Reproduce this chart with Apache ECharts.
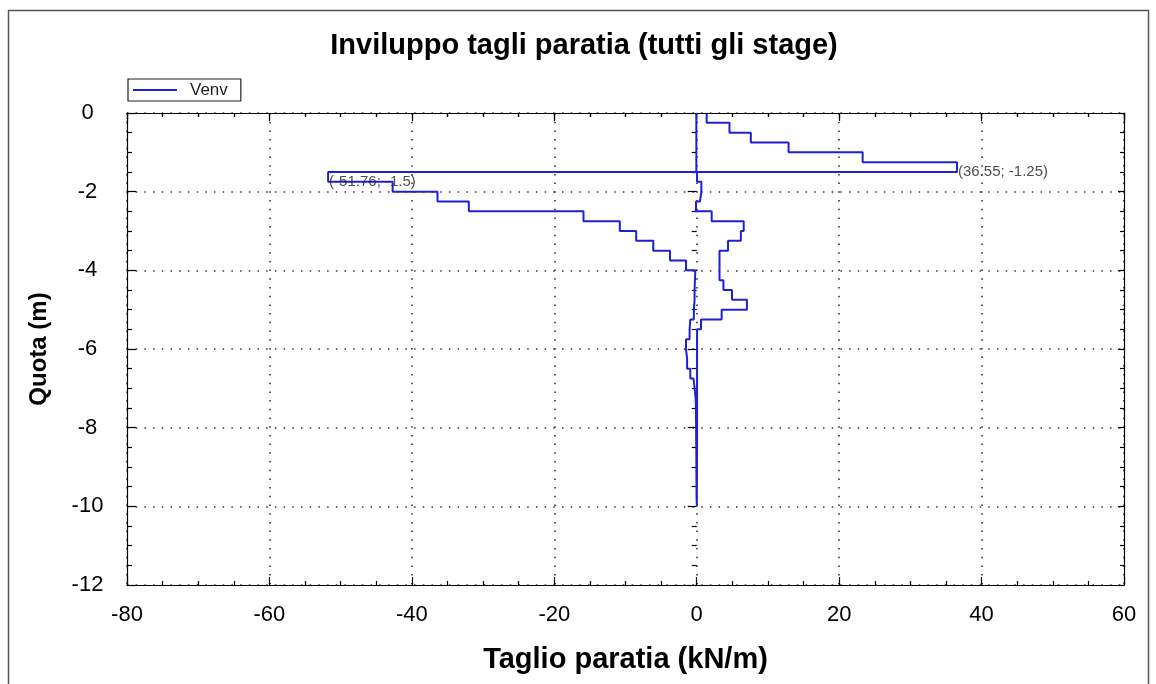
<!DOCTYPE html>
<html>
<head>
<meta charset="utf-8">
<script src="https://cdn.jsdelivr.net/npm/echarts@6/dist/echarts.min.js"></script>
<style>
html,body{margin:0;padding:0;background:#fff;}
#c{width:1156px;height:684px;}
</style>
</head>
<body>
<div id="c"></div>
<script>
// ---- data ----
const titleText = 'Inviluppo tagli paratia (tutti gli stage)';
const xName = 'Taglio paratia (kN/m)';
const yName = 'Quota (m)';
const seriesName = 'Venv';
// element nodes (quota, m)
const depth = [0,-0.25,-0.5,-0.75,-1,-1.25,-1.5,-1.75,-2,-2.25,-2.5,-2.75,-3,-3.25,-3.5,-3.75,-4,-4.25,-4.5,-4.75,-5,-5.25,-5.5,-5.75,-6,-6.25,-6.5,-6.75,-7,-7.25,-7.5,-7.75,-8,-8.25,-8.5,-8.75,-9,-9.25,-9.5,-9.75,-10];
// max envelope per element (kN/m)
const vMax = [1.4,4.6,7.6,12.9,23.3,36.55,0.05,0.65,0.45,-0.1,2.1,6.6,6.2,4.4,3.2,3.2,3.2,3.75,4.95,7.05,3.5,0.6,0.05,0.05,0.05,0.05,0.05,0.05,0.05,0.05,0.05,0.05,0.05,0.05,0.04,0.04,0.03,0.03,0.02,0.02];
// min envelope per element (kN/m)
const vMin = [-0.05,-0.05,-0.05,-0.05,-0.05,-0.05,-51.76,-42.7,-36.4,-32.0,-15.9,-10.8,-8.5,-6.1,-3.75,-1.5,-0.2,-0.25,-0.3,-0.3,-0.4,-0.9,-1.0,-1.5,-1.5,-1.35,-0.9,-0.45,-0.3,-0.15,-0.1,-0.1,-0.08,-0.08,-0.06,-0.05,-0.05,-0.04,-0.03,-0.02];
const xTicks = [-80,-60,-40,-20,0,20,40,60];
const yTicks = [0,-2,-4,-6,-8,-10,-12];

// ---- build envelope polyline (max down, min back up) ----
const env = [];
for (let i = 0; i < vMax.length; i++) {
  env.push([vMax[i], depth[i]]);
  env.push([vMax[i], depth[i + 1]]);
}
for (let i = vMin.length - 1; i >= 0; i--) {
  env.push([vMin[i], depth[i + 1]]);
  env.push([vMin[i], depth[i]]);
}
// peak labels
let iMax = 0, iMin = 0;
vMax.forEach((v, i) => { if (v > vMax[iMax]) iMax = i; });
vMin.forEach((v, i) => { if (v < vMin[iMin]) iMin = i; });
const peaks = [
  { value: [vMax[iMax], depth[iMax + 1]], txt: '(' + vMax[iMax] + '; ' + depth[iMax] + ')' },
  { value: [vMin[iMin], depth[iMin + 1]], txt: '(' + vMin[iMin] + '; ' + depth[iMin] + ')' }
];

const FONT = '"Liberation Sans", Arial, sans-serif';
const xMin = xTicks[0], xMax = xTicks[xTicks.length - 1];
const yMin = yTicks[yTicks.length - 1], yMax = yTicks[0];
const LINE_COLOR = '#1f1fd4';

function xAx(extra) {
  return Object.assign({
    type: 'value', min: xMin, max: xMax, interval: 20,
    axisLine: { show: false }, axisLabel: { show: false },
    axisTick: { show: false }, minorTick: { show: false },
    splitLine: { show: false }
  }, extra);
}
function yAx(extra) {
  return Object.assign({
    type: 'value', min: yMin, max: yMax, interval: 2,
    axisLine: { show: false }, axisLabel: { show: false },
    axisTick: { show: false }, minorTick: { show: false },
    splitLine: { show: false }
  }, extra);
}

const chart = echarts.init(document.getElementById('c'), null, { renderer: 'canvas' });
chart.setOption({
  animation: false,
  backgroundColor: '#fff',
  textStyle: { fontFamily: FONT },
  graphic: [
    { type: 'rect', shape: { x: 8.5, y: 10.5, width: 1140, height: 700 }, style: { fill: 'none', stroke: '#555', lineWidth: 1.5 }, silent: true, z: -10 },
    { type: 'text', x: 584, y: 46, style: { text: titleText, font: 'bold 29px ' + FONT, fill: '#000', align: 'center', verticalAlign: 'middle' } }
  ],
  legend: {
    data: [{ name: seriesName, icon: 'rect' }], left: 128, top: 79,
    orient: 'horizontal',
    borderColor: '#222', borderWidth: 1.2, borderRadius: 0,
    padding: [2, 13, 2, 5],
    itemWidth: 44, itemHeight: 2,
    itemStyle: { color: LINE_COLOR },
    textStyle: { fontSize: 17, color: '#222', fontFamily: FONT, padding: [0, 0, 0, 8], lineHeight: 18 },
    selectedMode: false
  },
  grid: { left: 127, right: 32, top: 113, bottom: 99, containLabel: false },
  xAxis: [
    xAx({
      position: 'bottom',
      name: xName, nameLocation: 'middle', nameGap: 60,
      nameTextStyle: { fontSize: 29, fontWeight: 'bold', color: '#000', fontFamily: FONT },
      axisLine: { show: true, onZero: false, lineStyle: { color: '#000', width: 1.2 } },
      axisTick: { show: true, inside: true, length: 8, lineStyle: { color: '#000', width: 1.2 } },
      minorTick: { show: true, splitNumber: 4, length: 4, lineStyle: { color: '#000', width: 1.2 } },
      axisLabel: { show: true, fontSize: 22, color: '#000', margin: 19, fontFamily: FONT },
      splitLine: { show: true, lineStyle: { type: [1.5, 7.2], color: '#333', width: 1.6 } }
    }),
    xAx({
      position: 'bottom',
      axisTick: { show: true, inside: false, length: 8, lineStyle: { color: '#000', width: 1.2 } },
      minorTick: { show: true, splitNumber: 4, length: 4, lineStyle: { color: '#000', width: 1.2 } }
    }),
    xAx({
      position: 'top',
      axisLine: { show: true, onZero: false, lineStyle: { color: '#000', width: 1.2 } },
      axisTick: { show: true, inside: true, length: 6, lineStyle: { color: '#000', width: 1.2 } },
      minorTick: { show: true, splitNumber: 4, length: 4, lineStyle: { color: '#000', width: 1.2 } }
    })
  ],
  yAxis: [
    yAx({
      position: 'left',
      name: yName, nameLocation: 'middle', nameGap: 76, nameRotate: 90,
      nameTextStyle: { fontSize: 24, fontWeight: 'bold', color: '#000', fontFamily: FONT },
      axisLine: { show: true, onZero: false, lineStyle: { color: '#000', width: 1.2 } },
      axisTick: { show: true, inside: true, length: 9, lineStyle: { color: '#000', width: 1.2 } },
      minorTick: { show: true, splitNumber: 4, length: 5, lineStyle: { color: '#000', width: 1.2 } },
      axisLabel: { show: true, fontSize: 22, color: '#000', margin: 39.5, align: 'center', fontFamily: FONT },
      splitLine: { show: true, lineStyle: { type: [1.5, 7.2], color: '#333', width: 1.6 } }
    }),
    yAx({
      position: 'left',
      axisTick: { show: true, inside: false, length: 9, lineStyle: { color: '#000', width: 1.2 } },
      minorTick: { show: true, splitNumber: 4, length: 5, lineStyle: { color: '#000', width: 1.2 } }
    }),
    yAx({
      position: 'right',
      axisLine: { show: true, onZero: false, lineStyle: { color: '#000', width: 1.2 } },
      axisTick: { show: true, inside: true, length: 6, lineStyle: { color: '#000', width: 1.2 } },
      minorTick: { show: true, splitNumber: 4, length: 4, lineStyle: { color: '#000', width: 1.2 } }
    })
  ],
  series: [
    {
      name: seriesName, type: 'line', xAxisIndex: 0, yAxisIndex: 0,
      data: env, symbol: 'none', showSymbol: false,
      lineStyle: { color: LINE_COLOR, width: 2 },
      itemStyle: { color: LINE_COLOR },
      z: 5
    },
    {
      name: 'peaks', type: 'scatter', xAxisIndex: 0, yAxisIndex: 0,
      symbolSize: 0,
      data: peaks.map(p => ({ value: p.value, txt: p.txt })),
      label: {
        show: true, position: 'right', distance: 1,
        formatter: (p) => p.data.txt,
        fontSize: 15, color: '#222', fontFamily: FONT
      },
      z: 6
    }
  ]
});
</script>
</body>
</html>
